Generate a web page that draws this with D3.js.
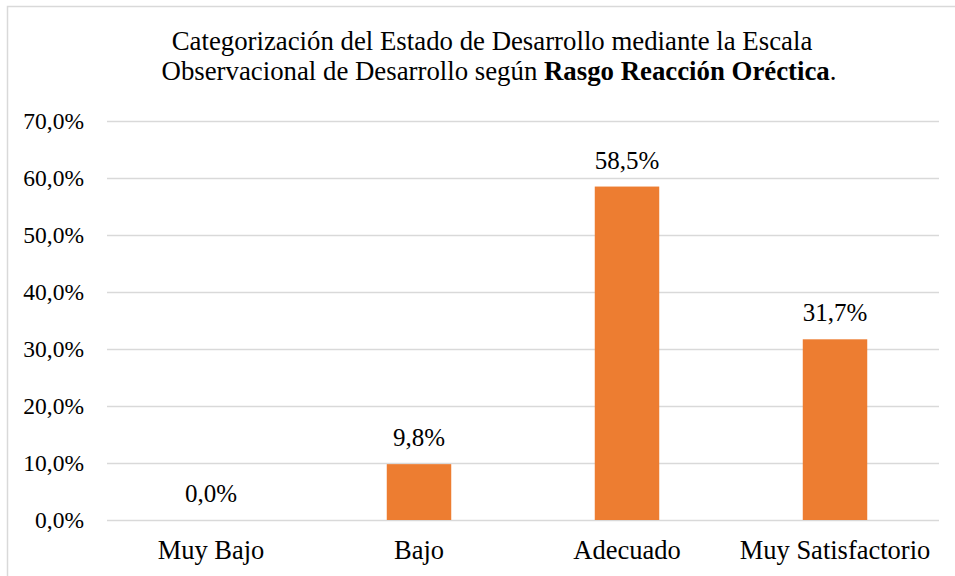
<!DOCTYPE html>
<html lang="es">
    <head>
        <meta charset="utf-8">
        <title>Rasgo Reacción Oréctica</title>
        <script src="https://cdn.jsdelivr.net/npm/d3@7"></script>
        <style type="text/css">
                body { margin: 0; background: #fff; }
                svg text {
                    font-family: "Liberation Serif", "Times New Roman", serif;
                    fill: #000;
                }
                .axis path { display: none; }
                .axis line { stroke: none; }
                .grid line { stroke: #d9d9d9; stroke-width: 1.5; }
                .grid path { display: none; }
         </style>
    </head>
    <body>
        <script type="text/javascript">
        // data
        var categories = ["Muy Bajo", "Bajo", "Adecuado", "Muy Satisfactorio"];
        var values = [0.0, 9.8, 58.5, 31.7];
        var yTicks = [0, 10, 20, 30, 40, 50, 60, 70];

        var w = 955;
        var h = 576;
        var mLeft = 107, mRight = 939, mTop = 121, mBottom = 520;

        var fmt = function(v) { return v.toFixed(1).replace(".", ",") + "%"; };

        var svg = d3.select("body")
                .append("svg")
                .attr("width", w)
                .attr("height", h);

        // frame of the chart area
        svg.append("rect")
            .attr("x", 7.5).attr("y", 6.5)
            .attr("width", 1000).attr("height", 700)
            .attr("fill", "none")
            .attr("stroke", "#d9d9d9")
            .attr("stroke-width", 1.5);

        var x = d3.scaleBand()
            .domain(categories)
            .range([mLeft, mRight])
            .paddingInner(0.69)
            .paddingOuter(0.345);

        var y = d3.scaleLinear()
            .domain([0, 70])
            .range([mBottom, mTop]);

        // gridlines
        svg.append("g")
            .attr("class", "grid")
            .attr("transform", "translate(" + mLeft + ",0)")
            .call(d3.axisLeft(y).tickValues(yTicks).tickSize(-(mRight - mLeft)).tickFormat(""));

        // y labels
        svg.append("g")
            .attr("class", "axis")
            .attr("transform", "translate(" + mLeft + ",0)")
            .call(d3.axisLeft(y).tickValues(yTicks).tickSize(0).tickPadding(23).tickFormat(fmt))
            .selectAll("text")
            .style("font-size", "23.5px");

        // x labels
        svg.append("g")
            .attr("class", "axis")
            .attr("transform", "translate(0," + mBottom + ")")
            .call(d3.axisBottom(x).tickSize(0).tickPadding(20))
            .selectAll("text")
            .style("font-size", "26.5px");

        svg.selectAll("rect.bar")
            .data(values)
            .enter()
            .append("rect")
            .attr("class", "bar")
            .attr("x", function(d, i) { return x(categories[i]); })
            .attr("y", function(d) { return y(d); })
            .attr("width", x.bandwidth())
            .attr("height", function(d) { return mBottom - y(d); })
            .attr("fill", "#ed7d31");

        svg.selectAll("text.val")
            .data(values)
            .enter()
            .append("text")
            .attr("class", "val")
            .attr("x", function(d, i) { return x(categories[i]) + x.bandwidth() / 2; })
            .attr("y", function(d) { return y(d) - 18; })
            .attr("text-anchor", "middle")
            .style("font-size", "25px")
            .text(fmt);

        // title
        var title = svg.append("text")
            .attr("text-anchor", "middle")
            .style("font-size", "26.8px");
        title.append("tspan").attr("x", 492).attr("y", 50)
            .text("Categorización del Estado de Desarrollo mediante la Escala");
        var l2 = title.append("tspan").attr("x", 499).attr("y", 80);
        l2.append("tspan").text("Observacional de Desarrollo según ");
        l2.append("tspan").style("font-weight", "bold").text("Rasgo Reacción Oréctica");
        l2.append("tspan").text(".");
        </script>
    </body>
</html>
